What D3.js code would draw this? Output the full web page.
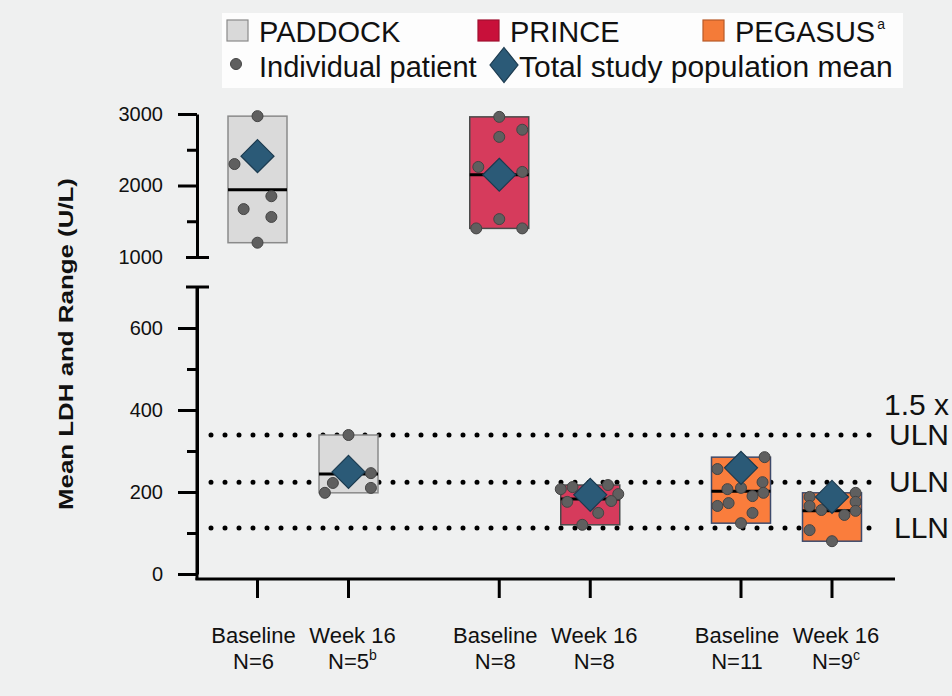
<!DOCTYPE html>
<html>
<head>
<meta charset="utf-8">
<script src="https://cdn.jsdelivr.net/npm/d3@7"></script>
<style>
  body { margin: 0; background: #eff0f0; }
  text { font-family: "Liberation Sans", Arial, sans-serif; }
</style>
</head>
<body>
<div id="chart"></div>
<script>
// studies and timepoints (x categories)
var studies = ["PADDOCK", "PRINCE", "PEGASUS"];
var timepoints = ["Baseline", "Week 16"];
var nCounts = [6, 5, 8, 8, 11, 9];
var nNotes = ["", "b", "", "", "", "c"];

// individual patient LDH (U/L), one list per study x timepoint
var patientLDH = [
  [2970, 2300, 1850, 1670, 1560, 1200],
  [339, 246, 222, 198, 210],
  [2960, 2680, 2780, 2260, 2190, 1530, 1400, 1400],
  [207, 212, 217, 195, 176, 178, 149, 120],
  [285, 256, 224, 207, 210, 198, 190, 173, 166, 149, 124],
  [188, 198, 176, 166, 156, 154, 144, 107, 80]
];
// horizontal spread of the dots, as a fraction of half the box width
var patientJitter = [
  [0, -0.78, 0.47, -0.47, 0.47, 0],
  [0, 0.76, -0.53, -0.8, 0.76],
  [0, 0, 0.78, -0.71, 0.78, 0, -0.78, 0.78],
  [-1, -0.6, 0.6, 0.95, -0.78, 0.71, 0.27, -0.27],
  [0.8, -0.8, 0.73, -0.46, 0, 0.76, 0.39, -0.42, -0.8, 0.39, 0],
  [-0.76, 0.8, 0.8, -0.76, -0.36, 0.8, 0.42, -0.76, 0]
];
var meanLDH = [2410, 249, 2150, 193, 259, 188];
var medianLDH = [1940, 244, 2150, 183, 202, 154];

// reference lines
var refValues = [339, 224, 112];
var refLabels = [["1.5 x", "ULN"], ["ULN"], ["LLN"]];

var topTicks = [1000, 2000, 3000], topMinor = [1500, 2500];
var botTicks = [0, 200, 400, 600], botMinor = [100, 300, 500];

var W = 952, H = 696;
var colors = { PADDOCK: "#dadada", PRINCE: "#d63b5c", PEGASUS: "#fa7d3c" };
var strokes = { PADDOCK: "#8a8a8a", PRINCE: "#4a4a4a", PEGASUS: "#3d4a6b" };
var legendColors = { PADDOCK: "#d9d9d9", PRINCE: "#c8103a", PEGASUS: "#f47b38" };
var legendStrokes = { PADDOCK: "#8a8a8a", PRINCE: "#a01030", PEGASUS: "#b85a28" };

var svg = d3.select("#chart").append("svg")
  .attr("width", W).attr("height", H);
svg.append("rect").attr("width", W).attr("height", H).attr("fill", "#eff0f0");

// scales
var yTop = d3.scaleLinear().domain([1000, 3000]).range([257, 114]);
var yBot = d3.scaleLinear().domain([0, 700]).range([574, 287]);
var y = function(v) { return v >= 1000 ? yTop(v) : yBot(v); };
var xStudy = d3.scalePoint().domain(studies).range([303, 786.5]);
var xTime = d3.scalePoint().domain(timepoints).range([-45.5, 45.5]);
var axisX = 197, boxW = 59;

var groups = [];
studies.forEach(function(s) {
  timepoints.forEach(function(t) {
    var i = groups.length;
    groups.push({
      study: s, time: t, x: xStudy(s) + xTime(t),
      pts: patientLDH[i].map(function(v, j) { return { v: v, j: patientJitter[i][j] }; }),
      mean: meanLDH[i], median: medianLDH[i],
      n: nCounts[i], note: nNotes[i]
    });
  });
});

// y axes
var ax = svg.append("g").attr("transform", "translate(" + axisX + ",0)");
function styleAxis(g) {
  g.selectAll("path, line").attr("stroke", "#000").attr("stroke-width", 3);
  g.selectAll("text").attr("font-size", 20).attr("fill", "#111")
    .style("font-family", "Liberation Sans, Arial, sans-serif");
}
var gTop = ax.append("g").call(d3.axisLeft(yTop).tickValues(topTicks).tickSize(19).tickSizeOuter(0).tickPadding(15).tickFormat(d3.format("d")));
var gTopMinor = ax.append("g").call(d3.axisLeft(yTop).tickValues(topMinor).tickSize(10).tickSizeOuter(0).tickFormat(""));
var gBot = ax.append("g").call(d3.axisLeft(yBot).tickValues(botTicks).tickSize(19).tickSizeOuter(0).tickPadding(15));
var gBotMinor = ax.append("g").call(d3.axisLeft(yBot).tickValues(botMinor).tickSize(10).tickSizeOuter(0).tickFormat(""));
[gTop, gTopMinor, gBot, gBotMinor].forEach(styleAxis);
gTopMinor.select(".domain").remove();
gBotMinor.select(".domain").remove();
// break caps
gTop.selectAll(".tick").filter(function(d) { return d === 1000; }).select("line")
  .attr("x1", -11).attr("x2", 12);
ax.append("line").attr("x1", -11).attr("x2", 12)
  .attr("y1", yBot(700)).attr("y2", yBot(700))
  .attr("stroke", "#000").attr("stroke-width", 3);
ax.append("line").attr("x1", 0).attr("x2", 0)
  .attr("y1", yBot(700)).attr("y2", 580)
  .attr("stroke", "#000").attr("stroke-width", 3);

// x axis
var xAxisY = 579;
svg.append("line").attr("x1", axisX - 1.5).attr("x2", 895)
  .attr("y1", xAxisY).attr("y2", xAxisY)
  .attr("stroke", "#000").attr("stroke-width", 3);
svg.selectAll(".xtick").data(groups).enter().append("line")
  .attr("x1", function(d) { return d.x; }).attr("x2", function(d) { return d.x; })
  .attr("y1", xAxisY).attr("y2", xAxisY + 19)
  .attr("stroke", "#000").attr("stroke-width", 3);
var labelX = function(d) { return d.x + (d.time === "Baseline" ? -4 : 4); };
var xl = svg.selectAll(".xlab").data(groups).enter().append("g");
xl.append("text")
  .attr("x", labelX).attr("y", 643)
  .attr("text-anchor", "middle").attr("font-size", 22).attr("fill", "#111")
  .text(function(d) { return d.time; });
var nl = xl.append("text")
  .attr("x", labelX).attr("y", 669)
  .attr("text-anchor", "middle").attr("font-size", 22).attr("fill", "#111");
nl.append("tspan").text(function(d) { return "N=" + d.n; });
nl.append("tspan").attr("dy", -9).attr("font-size", 14)
  .text(function(d) { return d.note; });

// y title
svg.append("text")
  .attr("transform", "translate(73,344) rotate(-90)")
  .attr("text-anchor", "middle").attr("font-size", 21).attr("font-weight", "bold")
  .attr("textLength", 332).attr("lengthAdjust", "spacingAndGlyphs")
  .attr("fill", "#111")
  .text("Mean LDH and Range (U/L)");

// reference lines
svg.selectAll(".ref").data(refValues).enter().append("line")
  .attr("x1", 211).attr("x2", 880)
  .attr("y1", function(d) { return yBot(d); }).attr("y2", function(d) { return yBot(d); })
  .attr("stroke", "#000").attr("stroke-width", 5)
  .attr("stroke-linecap", "round").attr("stroke-dasharray", "0,14");
refValues.forEach(function(v, i) {
  var lines = refLabels[i];
  lines.forEach(function(t, k) {
    svg.append("text")
      .attr("x", 949).attr("y", yBot(v) + 10 - (lines.length - 1 - k) * 30)
      .attr("text-anchor", "end").attr("font-size", 30).attr("fill", "#111")
      .text(t);
  });
});

// boxes
var g = svg.selectAll(".grp").data(groups).enter().append("g");
g.append("rect")
  .attr("x", function(d) { return d.x - boxW / 2; })
  .attr("width", boxW)
  .attr("y", function(d) { return y(d3.max(d.pts, function(p) { return p.v; })); })
  .attr("height", function(d) {
    var e = d3.extent(d.pts, function(p) { return p.v; });
    return y(e[0]) - y(e[1]);
  })
  .attr("fill", function(d) { return colors[d.study]; })
  .attr("stroke", function(d) { return strokes[d.study]; })
  .attr("stroke-width", 1.5);
g.append("line")
  .attr("x1", function(d) { return d.x - boxW / 2; })
  .attr("x2", function(d) { return d.x + boxW / 2; })
  .attr("y1", function(d) { return y(d.median); })
  .attr("y2", function(d) { return y(d.median); })
  .attr("stroke", "#000").attr("stroke-width", 3);
g.selectAll("circle").data(function(d) {
    return d.pts.map(function(p) { return { x: d.x + p.j * boxW / 2, v: p.v }; });
  }).enter().append("circle")
  .attr("cx", function(d) { return d.x; })
  .attr("cy", function(d) { return y(d.v); })
  .attr("r", 5.5)
  .attr("fill", "#5f5f5f").attr("stroke", "#444").attr("stroke-width", 1);
function diamond(cx, cy, hw, hh) {
  return "M" + cx + "," + (cy - hh) + "L" + (cx + hw) + "," + cy +
    "L" + cx + "," + (cy + hh) + "L" + (cx - hw) + "," + cy + "Z";
}
g.append("path")
  .attr("d", function(d) { return diamond(d.x, y(d.mean), 16.5, 16.5); })
  .attr("fill", "#2b5a77").attr("stroke", "#1b3a4f").attr("stroke-width", 1.2);

// legend
var lg = svg.append("g");
lg.append("rect").attr("x", 222).attr("y", 13).attr("width", 681).attr("height", 75)
  .attr("fill", "#fdfdfd");
var legX = [227, 478, 703];
studies.forEach(function(s, i) {
  lg.append("rect").attr("x", legX[i]).attr("y", 20).attr("width", 21).attr("height", 21)
    .attr("fill", legendColors[s]).attr("stroke", legendStrokes[s]).attr("stroke-width", 1.2);
  var t = lg.append("text").attr("x", legX[i] + 32).attr("y", 42)
    .attr("font-size", 29).attr("fill", "#111");
  t.append("tspan").text(s);
  if (s === "PEGASUS") t.append("tspan").attr("dy", -13).attr("dx", 2).attr("font-size", 14).text("a");
});
lg.append("circle").attr("cx", 236).attr("cy", 64).attr("r", 5.5)
  .attr("fill", "#5f5f5f").attr("stroke", "#444");
lg.append("text").attr("x", 259).attr("y", 77).attr("font-size", 29).attr("fill", "#111")
  .text("Individual patient");
lg.append("path").attr("d", diamond(504, 65, 14, 17.5))
  .attr("fill", "#2b5a77").attr("stroke", "#1b3a4f").attr("stroke-width", 1.2);
lg.append("text").attr("x", 519).attr("y", 77).attr("font-size", 30).attr("fill", "#111")
  .text("Total study population mean");
</script>
</body>
</html>
